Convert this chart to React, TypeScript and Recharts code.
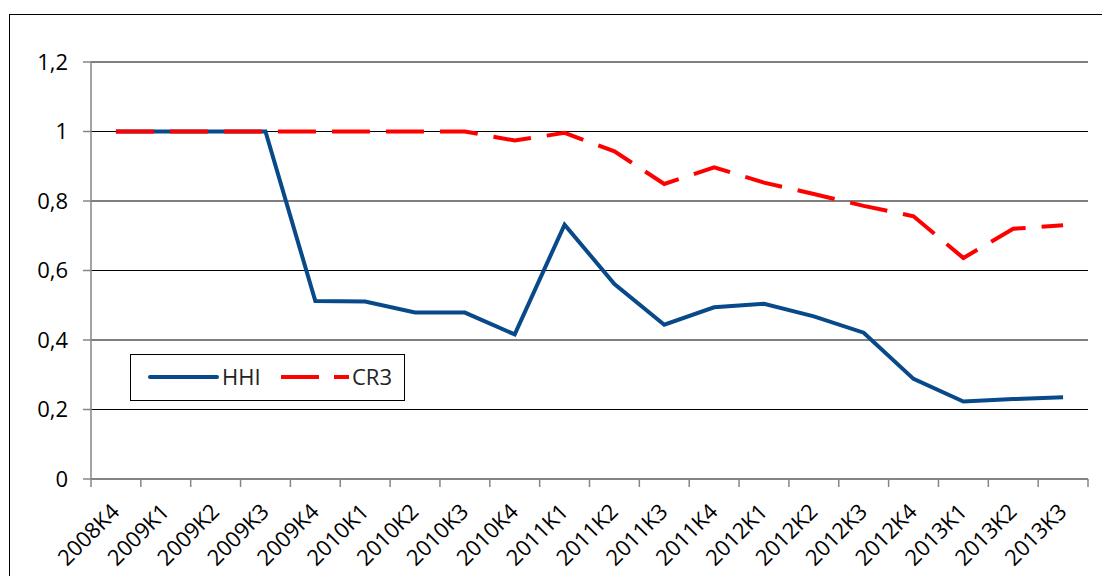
import React from 'react';
import { LineChart, Line, XAxis, YAxis, CartesianGrid, Legend } from 'recharts';

const quarters = [
  '2008K4', '2009K1', '2009K2', '2009K3', '2009K4',
  '2010K1', '2010K2', '2010K3', '2010K4',
  '2011K1', '2011K2', '2011K3', '2011K4',
  '2012K1', '2012K2', '2012K3', '2012K4',
  '2013K1', '2013K2', '2013K3',
];
const hhi = [1, 1, 1, 1, 0.512, 0.511, 0.479, 0.479, 0.416, 0.732, 0.561, 0.444, 0.494, 0.504, 0.468, 0.421, 0.288, 0.223, 0.23, 0.235];
const cr3 = [1, 1, 1, 1, 1, 1, 1, 1, 0.974, 0.996, 0.943, 0.849, 0.897, 0.853, 0.82, 0.786, 0.756, 0.636, 0.72, 0.73];
const yTicks = [0, 0.2, 0.4, 0.6, 0.8, 1, 1.2];

const data = quarters.map((q, i) => ({ q, HHI: hhi[i], CR3: cr3[i] }));

const W = 1102;
const H = 576;
const PLOT_LEFT = 91;
const PLOT_RIGHT = 1088;
const PLOT_TOP = 62;
const PLOT_BOTTOM = 479;
const Y_AXIS_W = 60;
const BAND = (PLOT_RIGHT - PLOT_LEFT) / quarters.length;
const FONT = '"Open Sans", sans-serif';
const BLUE = '#08498A';
const RED = '#FF0000';
const AXIS_GREY = '#868686';

const fmt = (v: number) => String(Number(v.toFixed(1))).replace('.', ',');

function QuarterTick(props: any) {
  const { x, y, payload, index } = props;
  const ax = x + 5;
  const ay = y + 34;
  return (
    <g>
      <line x1={x - BAND / 2} x2={x - BAND / 2} y1={y} y2={y + 8} stroke={AXIS_GREY} strokeWidth={1.5} />
      {index === quarters.length - 1 && (
        <line x1={x + BAND / 2} x2={x + BAND / 2} y1={y} y2={y + 8} stroke={AXIS_GREY} strokeWidth={1.5} />
      )}
      <text
        x={ax}
        y={ay}
        transform={`rotate(-45 ${ax} ${ay})`}
        textAnchor="end"
        fontFamily={FONT}
        fontSize={22}
        fill="#000"
      >
        {payload.value}
      </text>
    </g>
  );
}

function LegendBox() {
  return (
    <div style={{ width: 273, height: 45, border: '1px solid #000', background: '#fff', boxSizing: 'content-box' }}>
      <svg width={273} height={45}>
        <line x1={19} x2={86} y1={22} y2={22} stroke={BLUE} strokeWidth={4} strokeLinecap="round" />
        <text x={91} y={30} fontFamily={FONT} fontSize={22} fill="#222">HHI</text>
        <line x1={150} x2={218} y1={22} y2={22} stroke={RED} strokeWidth={4} strokeDasharray="38 15" />
        <text x={221} y={30} fontFamily={FONT} fontSize={22} fill="#222">CR3</text>
      </svg>
    </div>
  );
}

export default function App() {
  return (
    <div style={{ position: 'absolute', left: 0, top: 0, width: W, height: H, overflow: 'hidden', background: '#fff' }}>
      <div
        style={{
          position: 'absolute',
          left: 9,
          top: 14,
          width: W,
          height: H,
          border: '1.5px solid #000',
        }}
      />
      <div style={{ position: 'absolute', left: 0, top: 0 }}>
        <LineChart
          width={W}
          height={H}
          data={data}
          margin={{ top: PLOT_TOP, right: W - PLOT_RIGHT, left: PLOT_LEFT - Y_AXIS_W, bottom: 0 }}
        >
          <CartesianGrid vertical={false} stroke="#000" strokeWidth={1.2} />
          <XAxis
            dataKey="q"
            scale="band"
            interval={0}
            height={H - PLOT_BOTTOM}
            tickLine={false}
            tickSize={0}
            tickMargin={0}
            axisLine={{ stroke: AXIS_GREY, strokeWidth: 1.5 }}
            tick={<QuarterTick />}
          />
          <YAxis
            width={Y_AXIS_W}
            domain={[0, 1.2]}
            ticks={yTicks}
            tickFormatter={fmt}
            tickSize={8}
            tickMargin={15}
            axisLine={{ stroke: AXIS_GREY, strokeWidth: 1.5 }}
            tickLine={{ stroke: AXIS_GREY, strokeWidth: 1.5 }}
            tick={{ fontFamily: FONT, fontSize: 22, fill: '#000' }}
          />
          <Legend
            verticalAlign="middle"
            layout="horizontal"
            content={() => <LegendBox />}
            wrapperStyle={{ position: 'absolute', left: 130, top: 354, width: 275, height: 47 }}
          />
          <Line
            type="linear"
            dataKey="HHI"
            stroke={BLUE}
            strokeWidth={4}
            dot={false}
            activeDot={false}
            isAnimationActive={false}
          />
          <Line
            type="linear"
            dataKey="CR3"
            stroke={RED}
            strokeWidth={4}
            strokeDasharray="38 16"
            dot={false}
            activeDot={false}
            isAnimationActive={false}
          />
        </LineChart>
      </div>
    </div>
  );
}
